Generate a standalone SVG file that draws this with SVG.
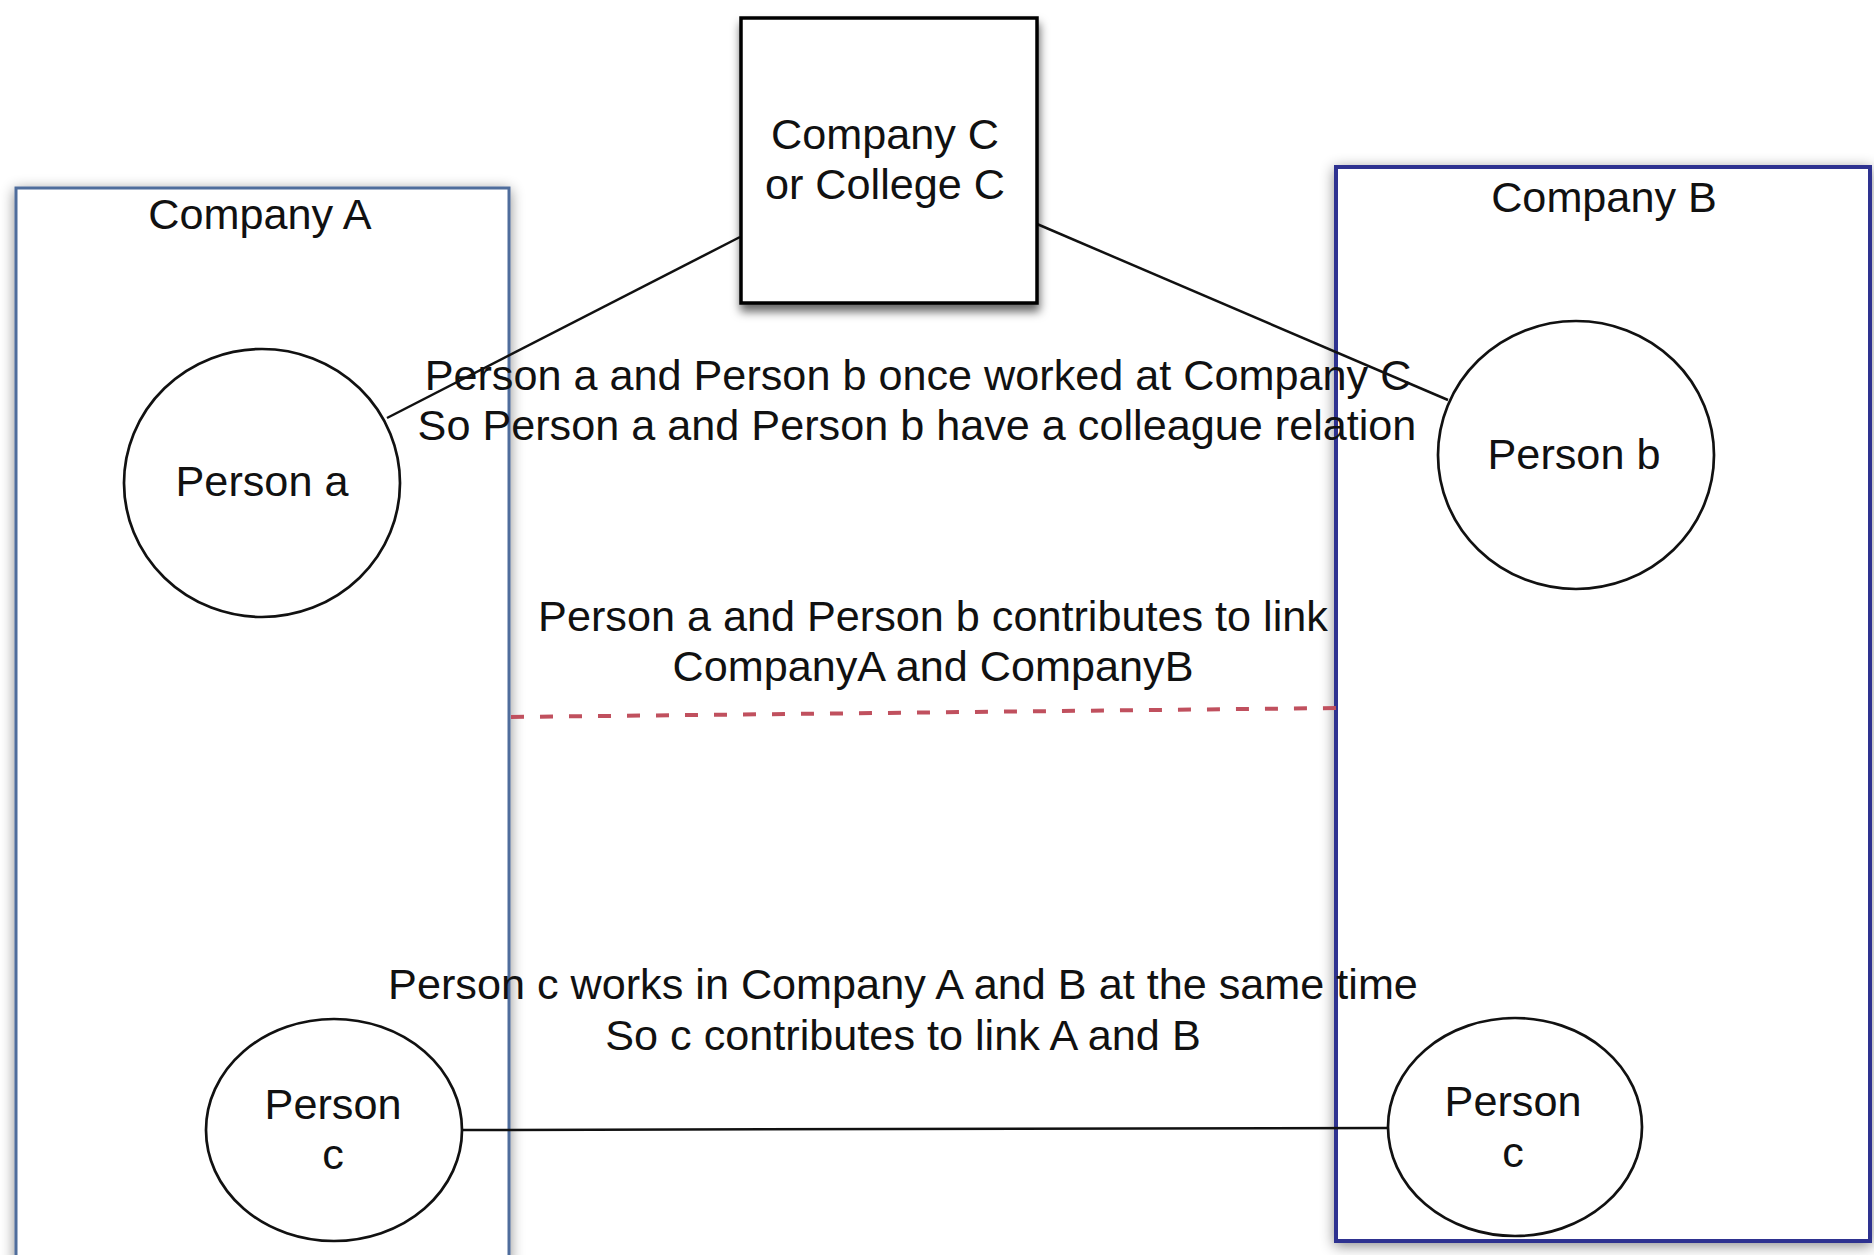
<svg xmlns="http://www.w3.org/2000/svg" width="1874" height="1255" viewBox="0 0 1874 1255">
  <defs>
    <filter id="softShadow" x="-10%" y="-10%" width="120%" height="120%">
      <feDropShadow dx="0" dy="3" stdDeviation="7" flood-color="#000" flood-opacity="0.45"/>
    </filter>
    <filter id="boxShadow" x="-15%" y="-15%" width="130%" height="135%">
      <feDropShadow dx="1" dy="7" stdDeviation="5" flood-color="#000" flood-opacity="0.6"/>
    </filter>
  </defs>
  <style>
    text { font-family: "Liberation Sans", Arial, Helvetica, sans-serif; font-size: 43.2px; fill: #111; text-anchor: middle; }
    .group-a { fill: #fff; stroke: #4f6d9c; stroke-width: 3; }
    .group-b { fill: #fff; stroke: #2e3190; stroke-width: 4; }
    .org { fill: #fff; stroke: #000; stroke-width: 3.5; }
    .person { fill: #fff; stroke: #111; stroke-width: 2.7; }
    .link { stroke: #111; stroke-width: 2.5; fill: none; }
    .dashed { stroke: #c0505e; stroke-width: 4; stroke-dasharray: 13 16; fill: none; }
  </style>

  <rect width="1874" height="1255" fill="#fff"/>

  <!-- company containers -->
  <g id="company-a">
    <rect class="group-a" x="16" y="188" width="493" height="1075" filter="url(#softShadow)"/>
    <text x="260" y="229">Company A</text>
  </g>
  <g id="company-b">
    <rect class="group-b" x="1336" y="167" width="534" height="1074" filter="url(#softShadow)"/>
    <text x="1604" y="212">Company B</text>
  </g>

  <!-- connectors -->
  <g id="connectors">
    <line class="link" x1="387" y1="418" x2="740" y2="237"/>
    <line class="link" x1="1037" y1="224" x2="1448" y2="400"/>
    <line class="link" x1="461" y1="1130" x2="1388" y2="1128"/>
    <line class="dashed" x1="511" y1="717" x2="1336" y2="708"/>
  </g>

  <g id="company-c">
    <rect class="org" x="741" y="18" width="296" height="285" filter="url(#boxShadow)"/>
    <text x="885" y="149">Company C</text>
    <text x="885" y="199">or College C</text>
  </g>

  <g id="person-a">
    <ellipse class="person" cx="262" cy="483" rx="138" ry="134"/>
    <text x="262" y="496">Person a</text>
  </g>
  <g id="person-b">
    <ellipse class="person" cx="1576" cy="455" rx="138" ry="134"/>
    <text x="1574" y="469">Person b</text>
  </g>
  <g id="person-c-a">
    <ellipse class="person" cx="334" cy="1130" rx="128" ry="111"/>
    <text x="333" y="1119">Person</text>
    <text x="333" y="1169">c</text>
  </g>
  <g id="person-c-b">
    <ellipse class="person" cx="1515" cy="1127" rx="127" ry="109"/>
    <text x="1513" y="1116">Person</text>
    <text x="1513" y="1167">c</text>
  </g>

  <!-- relation notes -->
  <g id="note-colleague">
    <text x="918" y="390">Person a and Person b once worked at Company C</text>
    <text x="917" y="440">So Person a and Person b have a colleague relation</text>
  </g>
  <g id="note-contribution">
    <text x="933" y="631">Person a and Person b contributes to link</text>
    <text x="933" y="681">CompanyA and CompanyB</text>
  </g>
  <g id="note-shared">
    <text x="903" y="999">Person c works in Company A and B at the same time</text>
    <text x="903" y="1050">So c contributes to link A and B</text>
  </g>
</svg>
